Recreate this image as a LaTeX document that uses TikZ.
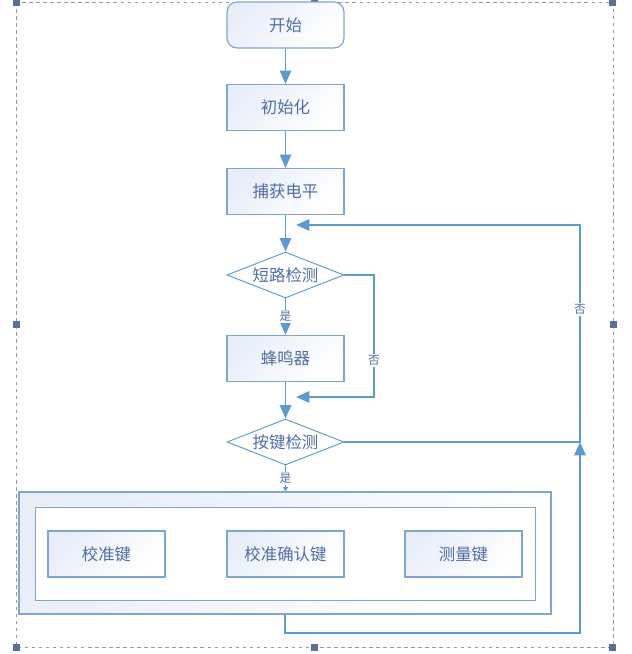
\documentclass[tikz,border=0pt]{standalone}
\usepackage{fontspec}
\setmainfont{Noto Sans CJK SC}
\usetikzlibrary{shapes.geometric,arrows.meta}
\definecolor{linie}{HTML}{5B9BD5}
\definecolor{rand}{HTML}{7EA6D3}
\definecolor{schrift}{HTML}{4E6EA8}
\definecolor{fuell}{HTML}{E8EEF8}
\definecolor{rahmen}{HTML}{8A9BB8}
\definecolor{griff}{HTML}{5A7096}
\tikzstyle{kasten}=[rectangle, draw=rand, line width=1pt, top color=fuell, bottom color=white, shading angle=45, minimum width=3.51cm, minimum height=1.38cm, text=schrift, font=\fontsize{14}{16}\selectfont]
\tikzstyle{anfangkasten}=[kasten, rounded corners=0.3cm]
\tikzstyle{frage}=[diamond, draw=linie, line width=0.8pt, fill=white, aspect=2.54, inner sep=0pt, minimum width=3.51cm, minimum height=1.38cm, text=schrift, font=\fontsize{14}{16}\selectfont]
\tikzstyle{pfeil}=[draw=linie, line width=1.6pt, -{Triangle[length=4mm,width=3.4mm]}]
\tikzstyle{marke}=[fill=white, text=schrift, font=\fontsize{10}{12}\selectfont, inner sep=1pt]

\begin{document}
\begin{tikzpicture}[x=0.03cm,y=-0.03cm]
			\useasboundingbox (0,0) rectangle (631,654);
			% Rahmen zeichnen
			\draw[rahmen, dashed, line width=0.6pt] (16,2) rectangle (613,647);
			\foreach \x/\y in {16/3,314/3,612/3,16/324,613/324,16/647,314/647,612/647}
				\fill[griff] (\x-3.5,\y-3.5) rectangle (\x+3.5,\y+3.5);
			% Schritte zeichnen
			\node[anfangkasten] (anfang) at (285.5,25) {开始};
			\node[kasten] (init) at (285.5,107.5) {初始化};
			\node[kasten] (pegel) at (285.5,191.5) {捕获电平};
			\node[frage] (kurz) at (285.5,275) {短路检测};
			\node[kasten] (summer) at (285.5,358.5) {蜂鸣器};
			\node[frage] (taste) at (285.5,442) {按键检测};
			% Tastengruppe zeichnen
			\node[kasten, minimum width=15.96cm, minimum height=3.66cm] (aussen) at (285,553) {};
			\node[draw=rand, line width=0.8pt, fill=white, minimum width=15cm, minimum height=2.79cm] (innen) at (285,553.5) {};
			\node[kasten] (kalib) at (106.5,554) {校准键};
			\node[kasten] (bestaet) at (285.5,554) {校准确认键};
			\node[kasten] (messen) at (463.5,554) {测量键};
			% Ziele der Rueckspruenge
			\coordinate (ziel1) at (296,397);
			\coordinate (ziel2) at (296,225);
			% Pfeile zeichnen
			\draw[pfeil] (anfang) -- (init);
			\draw[pfeil] (init) -- (pegel);
			\draw[pfeil] (pegel) -- (kurz);
			\draw[pfeil] (kurz) -- node[marke] {是} (summer);
			\draw[pfeil] (summer) -- (taste);
			\draw[pfeil] (kurz.east) -- (374,275) -- node[marke, pos=0.7] {否} (374,397) -- (ziel1);
			\draw[pfeil] (taste.east) -- (580,442) -- node[marke, pos=0.61] {否} (580,225) -- (ziel2);
			\draw[draw=linie, line width=1pt, -{Triangle[length=1.3mm,width=1.5mm]}] (taste.south) -- node[marke] {是} (taste.south |- aussen.north);
			\draw[pfeil] (aussen.south) -- (285,633) -- (580,633) -- (580,442);
		\end{tikzpicture}
\end{document}
